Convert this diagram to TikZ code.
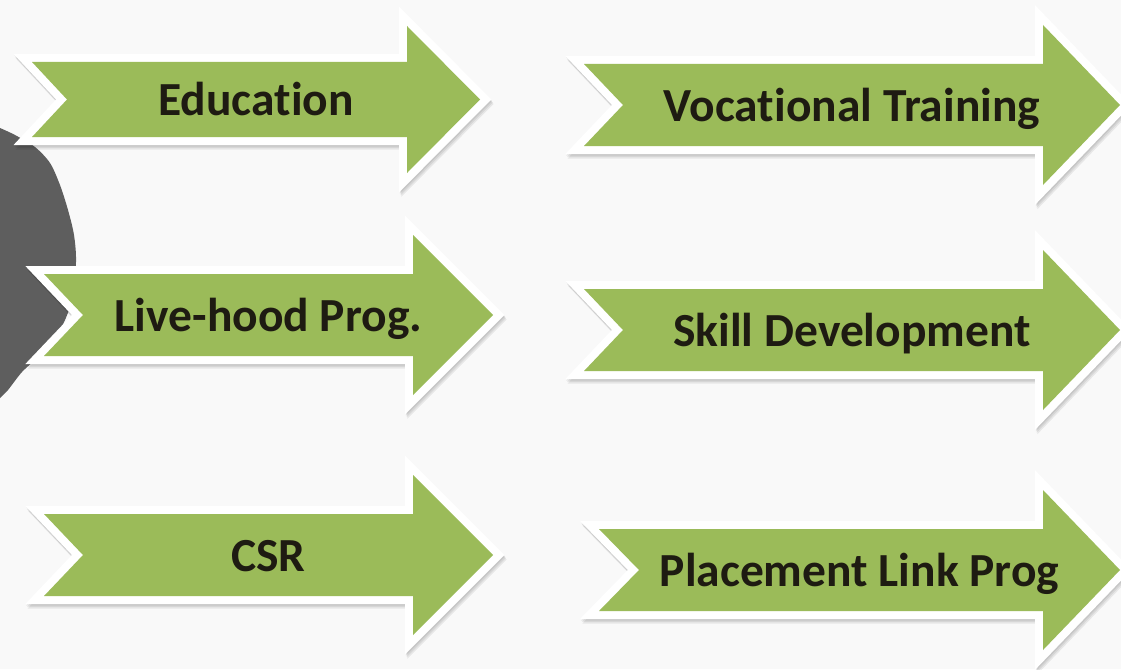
\documentclass[tikz,border=0pt]{standalone}
\usepackage{fontspec}
\setmainfont{Carlito}[Ligatures=NoCommon]
\definecolor{bgcol}{HTML}{F9F9F9}
\definecolor{arrowgreen}{HTML}{9BBB59}
\definecolor{ink}{HTML}{1E1B12}
\definecolor{blobcol}{HTML}{5E5E5E}
\tikzset{
  shadowlayer/.style={draw=black, line width=16pt, miter limit=10, line join=miter, draw opacity=0.07},
  whiteedge/.style={fill=white, draw=white, line width=16pt, line join=miter, miter limit=10},
  greenbody/.style={fill=arrowgreen},
  label/.style={font=\bfseries\fontsize{47.5}{52}\selectfont, text=ink, anchor=base, inner sep=0pt}
}
% #1 xL, #2 xNotch, #3 xBodyEnd, #4 xTip, #5 yCentre, #6 body half height, #7 head half height, #8 name, #9 text
\newcommand\greenarrow[9]{%
  \def\arrowpath{(#1,#5-#6) -- (#3,#5-#6) -- (#3,#5-#7) -- (#4,#5) -- (#3,#5+#7) -- (#3,#5+#6) -- (#1,#5+#6) -- (#2,#5) -- cycle}%
  \foreach \s in {1.5,3,4.5}{\draw[shadowlayer, shift={(\s*0.5,\s)}] \arrowpath;}
  \path[whiteedge] \arrowpath;
  \path[greenbody] \arrowpath;
  \node[label] (#8) at ({(#1+#4)/2},#5+16) {#9};
}
\begin{document}
\begin{tikzpicture}[x=1pt,y=-1pt]
\fill[bgcol] (0,0) rectangle (1121,669);
\useasboundingbox (0,0) rectangle (1121,669);
% dark blob at the left edge
\fill[blobcol] plot[smooth] coordinates {(0,128) (15,135) (35,147) (50,163) (60,185) (68,210) (74,235) (76,262) (72,300) (60,330) (40,355) (22,372) (8,390) (0,398)} -- cycle;
% arrows
\greenarrow{32}{67}{407}{480}{99.5}{37.5}{73.5}{education}{Education}
\greenarrow{584}{623}{1043}{1120}{105}{41}{80}{vocational}{Vocational Training}
\greenarrow{44}{83}{413}{493}{315}{41}{80}{livehood}{Live-hood Prog.}
\greenarrow{584}{623}{1043}{1120}{330}{41}{80}{skill}{Skill Development}
\greenarrow{44}{83}{413}{493}{555}{41}{80}{csr}{CSR}
\greenarrow{599}{639}{1043}{1120}{570}{41}{80}{placement}{Placement Link Prog}
\end{tikzpicture}
\end{document}
